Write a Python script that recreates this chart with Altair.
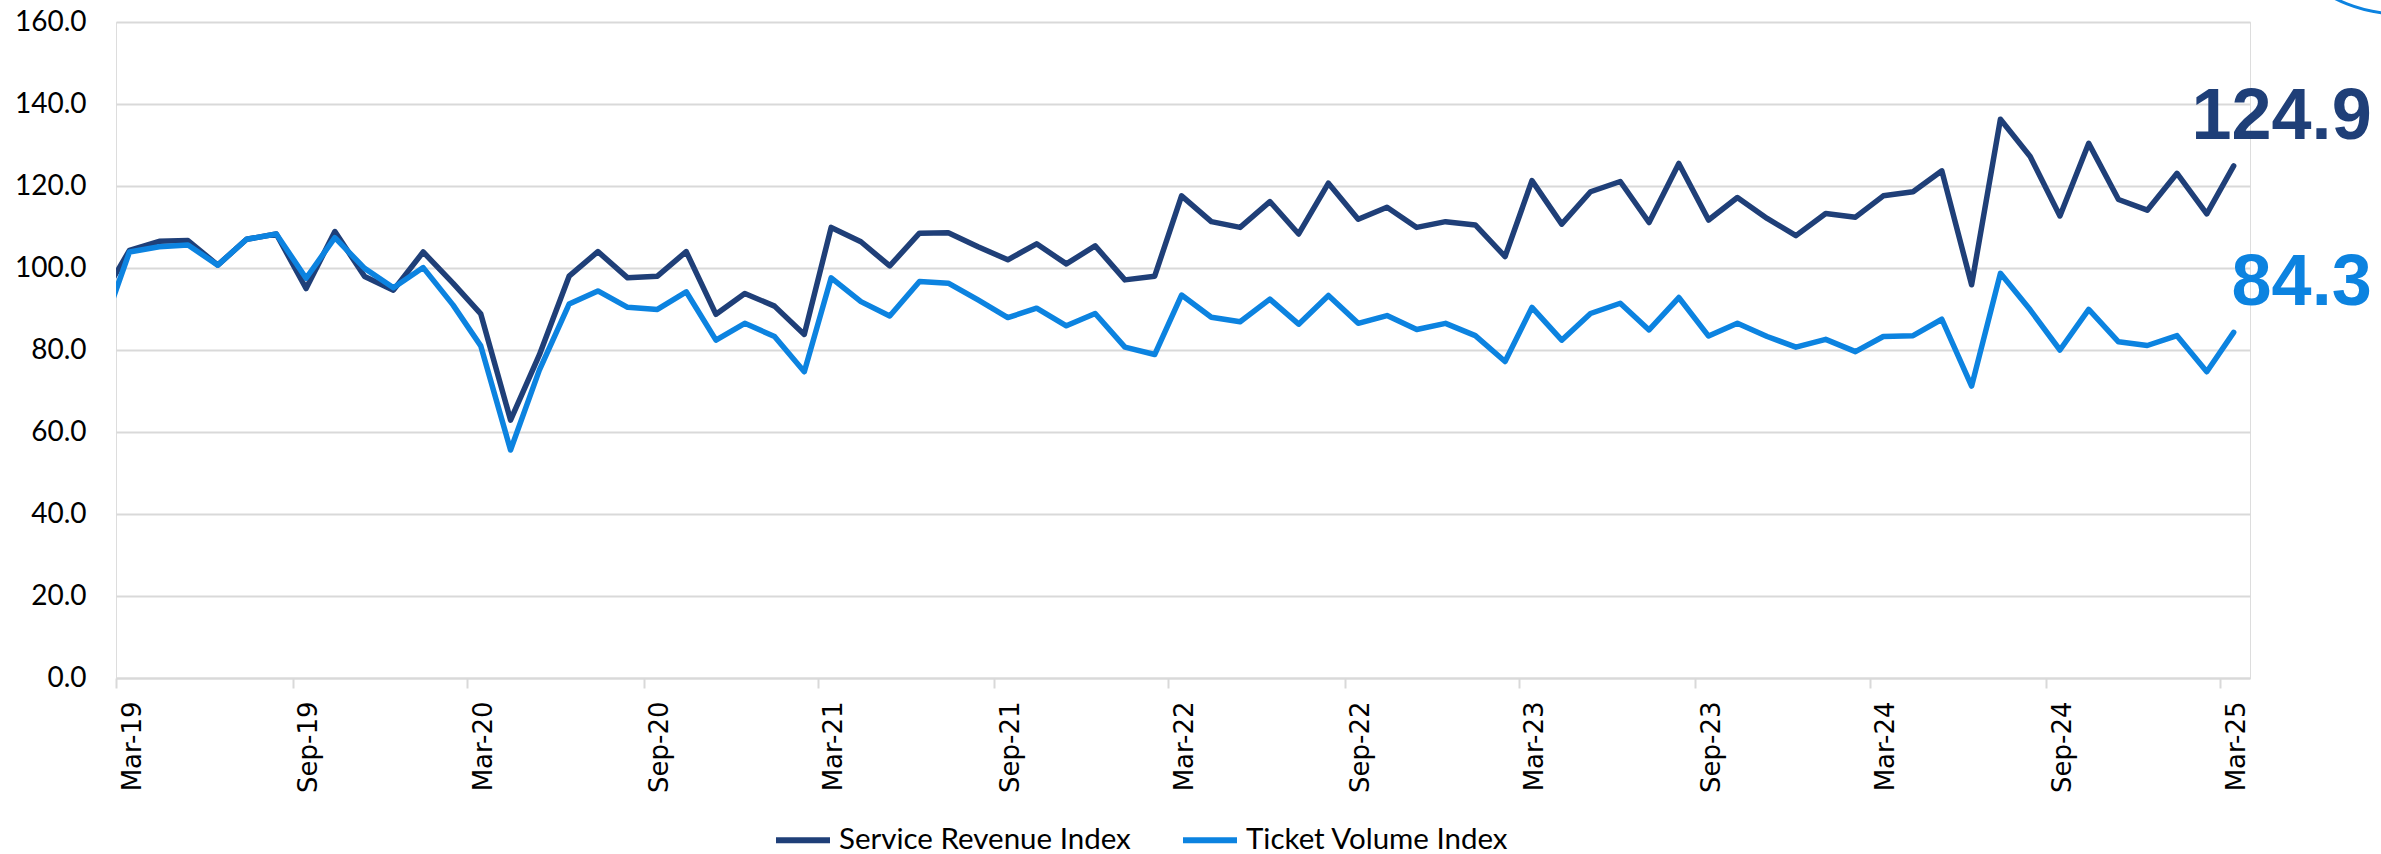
import altair as alt
import pandas as pd

# ---------------- data ----------------
series_names = ["Service Revenue Index", "Ticket Volume Index"]
series_colors = ["#1F3F78", "#0C83E0"]

# monthly points (mid-month), Feb-19 .. Mar-25 (Feb-19 only partly visible, clipped by the axis)
month_starts = pd.date_range("2019-02-01", "2025-03-01", freq="MS")
dates = [(m + pd.Timedelta(days=14)).strftime("%Y-%m-%dT00:00:00") for m in month_starts]

service_revenue = [
    93.1,
    104.3, 106.5, 106.7, 100.7, 107.0, 108.3, 95.0, 108.9, 97.9, 94.6, 103.9, 96.3,
    88.8, 62.9, 78.8, 98.0, 104.0, 97.6, 98.0, 104.0, 88.7, 93.8, 90.7, 83.8,
    109.9, 106.4, 100.5, 108.5, 108.6, 105.2, 102.0, 105.9, 101.0, 105.4, 97.1, 98.0,
    117.6, 111.3, 109.9, 116.2, 108.3, 120.7, 111.9, 114.8, 109.9, 111.3, 110.5, 102.8,
    121.3, 110.7, 118.6, 121.1, 111.1, 125.5, 111.7, 117.2, 112.1, 107.9, 113.3, 112.4,
    117.6, 118.6, 123.7, 95.9, 136.3, 127.2, 112.7, 130.4, 116.7, 114.1, 123.1, 113.2,
    124.9,
]
ticket_volume = [
    85.3,
    103.9, 105.2, 105.6, 100.7, 107.0, 108.3, 97.5, 107.4, 99.9, 95.2, 100.1, 91.0,
    81.0, 55.6, 75.1, 91.2, 94.4, 90.4, 89.9, 94.2, 82.4, 86.5, 83.3, 74.7,
    97.6, 91.8, 88.3, 96.7, 96.3, 92.2, 87.9, 90.2, 85.9, 88.9, 80.7, 78.9,
    93.4, 88.0, 86.9, 92.4, 86.3, 93.3, 86.5, 88.4, 85.0, 86.5, 83.5, 77.2,
    90.4, 82.4, 88.9, 91.4, 84.9, 92.8, 83.4, 86.5, 83.3, 80.7, 82.6, 79.6,
    83.3, 83.5, 87.5, 71.2, 98.7, 89.8, 80.0, 89.9, 82.0, 81.1, 83.5, 74.7,
    84.3,
]

tick_dates = [
    "2019-03", "2019-09", "2020-03", "2020-09", "2021-03", "2021-09", "2022-03",
    "2022-09", "2023-03", "2023-09", "2024-03", "2024-09", "2025-03",
]
y_ticks = [0, 20, 40, 60, 80, 100, 120, 140, 160]

# ---------------- tables ----------------
rows = []
for name, vals in zip(series_names, [service_revenue, ticket_volume]):
    for d, v in zip(dates, vals):
        rows.append({"date": d, "series": name, "value": v})
df = pd.DataFrame(rows)

last = pd.DataFrame({
    "date": [dates[-1], dates[-1]],
    "series": series_names,
    "value": [service_revenue[-1], ticket_volume[-1]],
})


def dt(s):
    y, m = s.split("-")
    return alt.DateTime(year=int(y), month=int(m), date=1, hours=0)


x_scale = alt.Scale(domain=[alt.DateTime(year=2019, month=3, date=1, hours=0),
                            alt.DateTime(year=2025, month=4, date=1, hours=0)])
y_scale = alt.Scale(domain=[0, 160])
color_scale = alt.Scale(domain=series_names, range=series_colors)

x_axis = alt.Axis(
    values=[dt(s) for s in tick_dates], format="%b-%y", title=None, grid=False,
    labelAngle=270, labelAlign="right", labelBaseline="middle",
    labelPadding=13, labelOffset=16, labelFlush=False, labelOverlap=False, labelBound=False,
    labelFont="DejaVu Sans", labelFontSize=26, labelColor="#000000",
    tickColor="#D9D9D9", tickSize=10, tickWidth=2,
    domainColor="#D9D9D9", domainWidth=2,
)
y_axis = alt.Axis(
    values=y_ticks, format=".1f", title=None, grid=True,
    gridColor="#D9D9D9", gridWidth=2, domain=False, ticks=False,
    labelPadding=30, labelFont="Lato", labelFontSize=28, labelColor="#000000",
)

legend = alt.Legend(
    title=None, orient="none", legendX=657, legendY=788, direction="horizontal",
    symbolType="stroke", symbolSize=2916, symbolStrokeWidth=6,
    labelFont="Lato", labelFontSize=29.5, labelColor="#000000", labelOffset=6,
    labelLimit=600, columnPadding=40, padding=0,
)

base = alt.Chart(df)

line_service = base.transform_filter(
    alt.datum.series == series_names[0]
).mark_line(strokeWidth=5.5, clip=True, strokeJoin="round", strokeCap="round").encode(
    x=alt.X("date:T", scale=x_scale, axis=x_axis),
    y=alt.Y("value:Q", scale=y_scale, axis=y_axis),
    color=alt.Color("series:N", scale=color_scale, legend=legend),
)

line_ticket = base.transform_filter(
    alt.datum.series == series_names[1]
).mark_line(strokeWidth=5.5, clip=True, strokeJoin="round", strokeCap="round").encode(
    x=alt.X("date:T", scale=x_scale),
    y=alt.Y("value:Q", scale=y_scale),
    color=alt.Color("series:N", scale=color_scale),
)

labels = alt.Chart(last).mark_text(
    align="right", baseline="alphabetic", dx=138, dy=-27,
    fontSize=72, fontWeight="bold", font="Liberation Sans",
).encode(
    x=alt.X("date:T", scale=x_scale),
    y=alt.Y("value:Q", scale=y_scale),
    text=alt.Text("value:Q", format=".1f"),
    color=alt.Color("series:N", scale=color_scale, legend=None),
)

arc = alt.Chart(pd.DataFrame({"k": [0]})).mark_point(
    shape="circle", filled=False, strokeWidth=3, color=series_colors[1], opacity=1,
).encode(
    x=alt.value(2284), y=alt.value(-152), size=alt.value(82944),
)

chart = alt.layer(line_service, line_ticket, labels, arc).properties(
    width=2134, height=656,
    autosize=alt.AutoSizeParams(type="none"),
    padding={"left": 116, "top": 22, "right": 131, "bottom": 176},
).configure_view(stroke=None).configure(background="#FFFFFF")

chart.save("out.html", embed_options={"renderer": "svg", "actions": False})
